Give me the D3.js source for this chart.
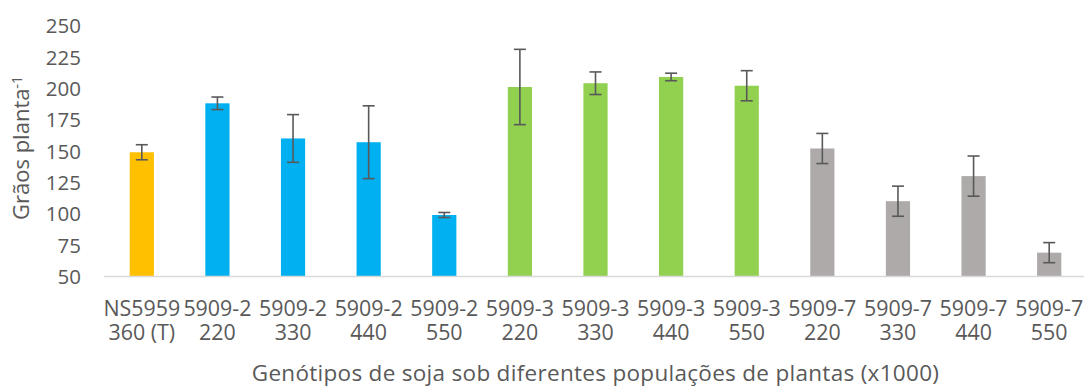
<!DOCTYPE html>
<html>
<head>
<meta charset="utf-8">
<script src="https://cdn.jsdelivr.net/npm/d3@7/dist/d3.min.js"></script>
<style>
  html, body { margin: 0; padding: 0; background: #fff; }
  svg { display: block; font-family: "Open Sans", sans-serif; }
</style>
</head>
<body>
<svg id="chart" width="1084" height="387"></svg>
<script>
// Genotype / plant population labels (two lines per category)
const genotypes   = ["NS5959", "5909-2", "5909-2", "5909-2", "5909-2", "5909-3", "5909-3", "5909-3", "5909-3", "5909-7", "5909-7", "5909-7", "5909-7"];
const populations = ["360 (T)", "220", "330", "440", "550", "220", "330", "440", "550", "220", "330", "440", "550"];
// Grains per plant (mean) and error bar half-lengths
const values = [149, 188, 160, 157, 99, 201, 204, 209, 202, 152, 110, 130, 69];
const errors = [6, 5, 19, 29, 2, 30, 9, 3, 12, 12, 12, 16, 8];
// Group of each bar (controls colour)
const groups = ["T", "2", "2", "2", "2", "3", "3", "3", "3", "7", "7", "7", "7"];
const groupColors = { T: "#FFC000", "2": "#00B0F0", "3": "#92D050", "7": "#AEAAAA" };
const yTicks = [50, 75, 100, 125, 150, 175, 200, 225, 250];

const svg = d3.select("#chart");
const textColor = "#595959";

const x = d3.scaleBand()
  .domain(d3.range(values.length))
  .range([104, 1087])
  .padding(0);

const y = d3.scaleLinear().domain([50, 250]).range([276.5, 25.5]);

const barW = x.bandwidth() * 0.32;

// Y axis labels (no line, no grid)
const yAxis = svg.append("g")
  .attr("transform", "translate(81,0)")
  .call(d3.axisLeft(y).tickValues(yTicks).tickSize(0).tickPadding(0).tickFormat(d3.format("d")));
yAxis.select(".domain").remove();
yAxis.selectAll("text")
  .attr("fill", textColor)
  .style("font-size", "20.5px")
  .style("font-family", "'Open Sans', sans-serif")
  .attr("dy", "0.35em");

// Bars
svg.append("g").selectAll("rect")
  .data(values)
  .join("rect")
  .attr("x", (d, i) => x(i) + (x.bandwidth() - barW) / 2)
  .attr("y", d => y(d))
  .attr("width", barW)
  .attr("height", d => y(50) - y(d))
  .attr("fill", (d, i) => groupColors[groups[i]]);

// Category axis line
svg.append("line")
  .attr("x1", 104).attr("x2", 1087)
  .attr("y1", y(50)).attr("y2", y(50))
  .attr("stroke", "#D9D9D9").attr("stroke-width", 1.5);

// Error bars
const eb = svg.append("g").attr("stroke", "#595959").attr("stroke-width", 1.6).attr("fill", "none");
values.forEach((v, i) => {
  const cx = x(i) + x.bandwidth() / 2;
  const top = y(v + errors[i]);
  const bot = y(v - errors[i]);
  eb.append("line").attr("x1", cx).attr("x2", cx).attr("y1", top).attr("y2", bot);
  eb.append("line").attr("x1", cx - 6).attr("x2", cx + 6).attr("y1", top).attr("y2", top);
  eb.append("line").attr("x1", cx - 6).attr("x2", cx + 6).attr("y1", bot).attr("y2", bot);
});

// Category labels: genotype on the first line, population on the second
const xl = svg.append("g")
  .attr("fill", textColor)
  .style("font-size", "21.4px")
  .attr("text-anchor", "middle");
genotypes.forEach((g, i) => {
  const cx = x(i) + x.bandwidth() / 2;
  xl.append("text").attr("x", cx).attr("y", 315.5).text(g);
  xl.append("text").attr("x", cx).attr("y", 340).text(populations[i]);
});

// X axis title
svg.append("text")
  .attr("x", (104 + 1087) / 2)
  .attr("y", 381)
  .attr("text-anchor", "middle")
  .attr("fill", textColor)
  .style("font-size", "22.5px")
  .style("letter-spacing", "0.3px")
  .text("Genótipos de soja sob diferentes populações de plantas (x1000)");

// Y axis title with superscript
const yt = svg.append("text")
  .attr("transform", "translate(29,148) rotate(-90)")
  .attr("text-anchor", "middle")
  .attr("fill", textColor)
  .style("font-size", "22px");
yt.append("tspan").text("Grãos planta");
yt.append("tspan").attr("dy", "-0.5em").style("font-size", "14px").text("-1");
</script>
</body>
</html>
